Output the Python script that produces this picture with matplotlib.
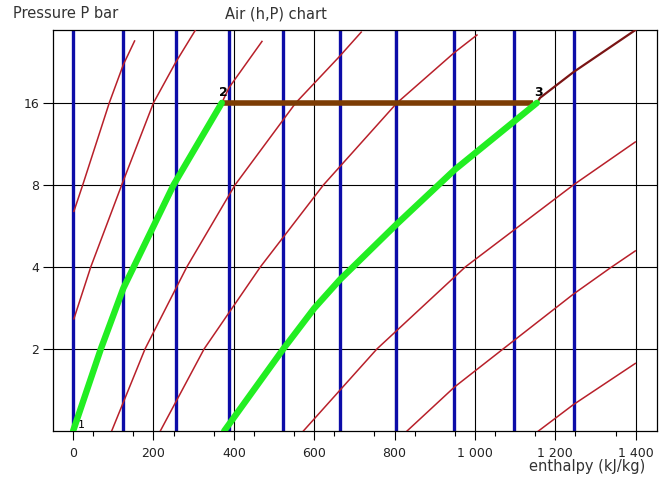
#!/usr/bin/env python3
"""
Hava icin (h,P) diyagrami: izotermler (mavi), izentroplar (kirmizi)
ve Brayton cevrimi 1-2-3-4 (yesil / kahverengi).
"""
import matplotlib
matplotlib.use("Agg")
import matplotlib.pyplot as plt
from matplotlib.ticker import FixedLocator, NullLocator

# --- veriler ----------------------------------------------------------
# izotermler: sabit h degerleri (kJ/kg)
izoterm_h = [0, 125, 255, 387, 523, 663, 803, 949, 1096, 1246]

# izentroplar: (h, P) noktalari
izentrop_h = [
    [2, 24, 90, 125, 153],
    [2, 44, 121, 200, 255, 305],
    [96, 179, 283, 403, 554, 663, 717],
    [217, 326, 466, 623, 806, 949, 1005],
    [573, 756, 976, 1245, 1399],
    [831, 949, 1070, 1245, 1337, 1399],
    [1158, 1245, 1399],
]
izentrop_p = [
    [6.4, 8, 16, 22.1, 27.0],
    [2.58, 4, 8, 16, 22.5, 29.7],
    [1, 2, 4, 8, 16, 23.7, 29.1],
    [1, 2, 4, 8, 16, 24.5, 28.4],
    [1, 2, 4, 8, 11.5],
    [1, 1.45, 2, 3.18, 3.97, 4.58],
    [1, 1.25, 1.77],
]

# cevrim: sikistirma 1->2, isitma 2->3, genlesme 3->4
sikistirma_h = [0, 69, 125, 250, 370]
sikistirma_p = [1, 2, 3.34, 8, 16]
sikistirma_devam_h = [370, 388, 470]
sikistirma_devam_p = [16, 18.2, 26.9]

isitma_h = [366, 1145]
isitma_p = [16, 16]

genlesme_h = [376, 523, 600, 663, 803, 949, 1154]
genlesme_p = [1, 2, 2.82, 3.58, 5.7, 9.08, 16]
genlesme_devam_h = [1154, 1162, 1246, 1399]
genlesme_devam_p = [16, 16.7, 20.8, 29.6]

x_etiket = ["0", "200", "400", "600", "800", "1 000", "1 200", "1 400"]
x_ana = [0, 200, 400, 600, 800, 1000, 1200, 1400]
x_ara = [50, 150, 250, 350, 450, 550, 650, 750, 850, 950, 1050, 1150, 1250, 1350]
y_ana = [2, 4, 8, 16]

KIRMIZI = "#b8202a"
KOYU_KIRMIZI = "#7a1414"
MAVI = "#0c0ca8"
YESIL = "#22ee22"
KAHVE = "#7c3c04"

fig = plt.figure(figsize=(6.68, 4.84), dpi=100)
ax = fig.add_axes([53 / 668, 1 - 431 / 484, 604 / 668, 401.3 / 484])

ax.set_yscale("log", base=2)
ax.set_xlim(-50, 1453)
ax.set_ylim(1, 29.7)

# izgara
for h in x_ana[1:]:
    ax.axvline(h, color="black", lw=0.8, zorder=1)
for p in y_ana:
    ax.axhline(p, color="black", lw=0.8, zorder=1)

# izotermler
for h in izoterm_h:
    ax.axvline(h, color=MAVI, lw=2.4, zorder=2)

# izentroplar
for hs, ps in zip(izentrop_h, izentrop_p):
    ax.plot(hs, ps, color=KIRMIZI, lw=1.1, solid_joinstyle="round", zorder=3)

# cevrim
ax.plot(sikistirma_h, sikistirma_p, color="black", lw=1.0, zorder=4)
ax.plot(genlesme_h, genlesme_p, color="black", lw=1.0, zorder=4)
ax.plot(sikistirma_devam_h, sikistirma_devam_p, color=KIRMIZI, lw=1.1, zorder=3)
ax.plot(genlesme_devam_h, genlesme_devam_p, color=KOYU_KIRMIZI, lw=1.6, zorder=3)
ax.plot(isitma_h, isitma_p, color=KAHVE, lw=4.0, solid_capstyle="butt", zorder=5)
ax.plot(sikistirma_h, sikistirma_p, color=YESIL, lw=4.6,
        solid_capstyle="round", solid_joinstyle="round", zorder=6)
ax.plot(genlesme_h, genlesme_p, color=YESIL, lw=4.6,
        solid_capstyle="round", solid_joinstyle="round", zorder=6)

# nokta numaralari
ax.text(sikistirma_h[0] + 12, 1.03, "1", fontsize=8, zorder=5)
ax.text(373, 16.6, "2", fontsize=9, fontweight="bold",
        ha="center", va="bottom", zorder=7)
ax.text(1157, 16.6, "3", fontsize=9, fontweight="bold",
        ha="center", va="bottom", zorder=7)

# eksenler
ax.xaxis.set_major_locator(FixedLocator(x_ana))
ax.xaxis.set_minor_locator(FixedLocator(x_ara))
ax.set_xticklabels(x_etiket)
ax.yaxis.set_major_locator(FixedLocator(y_ana))
ax.yaxis.set_minor_locator(NullLocator())
ax.set_yticklabels([str(p) for p in y_ana])
ax.tick_params(axis="x", which="major", length=6.5, width=0.8, labelsize=9,
               pad=5, labelcolor="#222222")
ax.tick_params(axis="x", which="minor", length=3.3, width=0.8)
ax.tick_params(axis="y", which="major", length=7, width=0.8, labelsize=9,
               pad=3, labelcolor="#222222")
for sp in ax.spines.values():
    sp.set_linewidth(0.9)

fig.text(13 / 668, 1 - 14 / 484, "Pressure P bar", fontsize=10.5,
         color="#333333", va="center", ha="left")
fig.text(225 / 668, 1 - 14 / 484, "Air (h,P) chart", fontsize=10.5,
         color="#333333", va="center", ha="left")
fig.text(645 / 668, 1 - 467 / 484, "enthalpy (kJ/kg)", fontsize=10.5,
         color="#333333", va="center", ha="right")

fig.savefig("out.png", dpi=100)
